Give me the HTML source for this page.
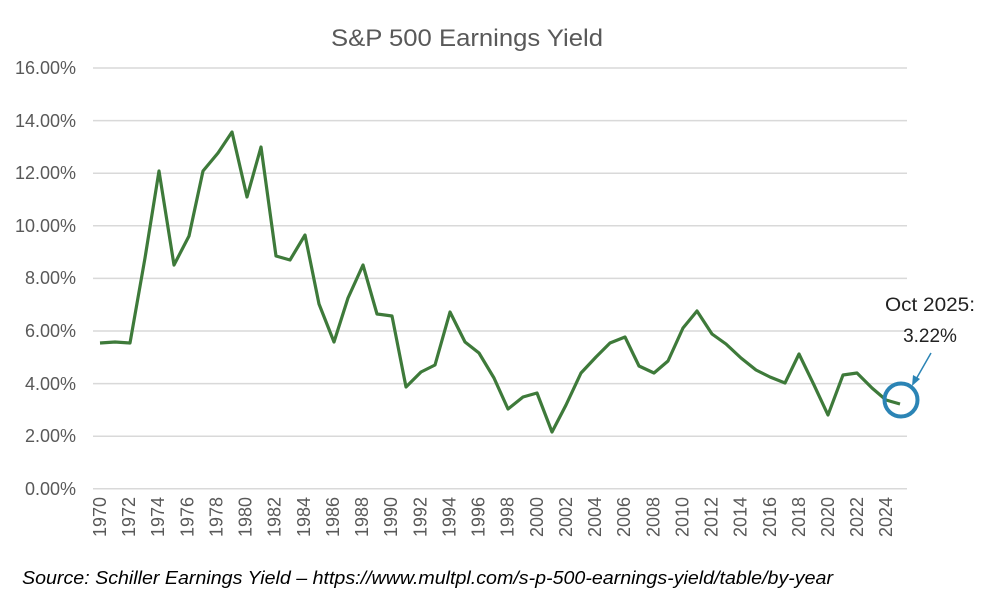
<!DOCTYPE html>
<html><head><meta charset="utf-8"><style>
body{margin:0;background:#fff;}
svg{display:block;font-family:"Liberation Sans",sans-serif;}
</style></head><body>
<svg width="1000" height="599" viewBox="0 0 1000 599">
<rect width="1000" height="599" fill="#fff"/>
<text x="331" y="46" font-size="24" fill="#595959" textLength="272" lengthAdjust="spacingAndGlyphs">S&amp;P 500 Earnings Yield</text>
<g stroke="#d9d9d9" stroke-width="1.5">
<line x1="93" x2="907" y1="68" y2="68"/><line x1="93" x2="907" y1="120.6" y2="120.6"/>
<line x1="93" x2="907" y1="173.2" y2="173.2"/><line x1="93" x2="907" y1="225.8" y2="225.8"/>
<line x1="93" x2="907" y1="278.4" y2="278.4"/><line x1="93" x2="907" y1="331" y2="331"/>
<line x1="93" x2="907" y1="383.6" y2="383.6"/><line x1="93" x2="907" y1="436.2" y2="436.2"/>
<line x1="93" x2="907" y1="488.8" y2="488.8"/>
</g>
<g font-size="18" fill="#595959" text-anchor="end">
<text x="76" y="74">16.00%</text><text x="76" y="127">14.00%</text><text x="76" y="179">12.00%</text>
<text x="76" y="232">10.00%</text><text x="76" y="284">8.00%</text><text x="76" y="337">6.00%</text>
<text x="76" y="390">4.00%</text><text x="76" y="442">2.00%</text><text x="76" y="495">0.00%</text>
</g>
<g font-size="18" fill="#595959" text-anchor="end">
<text transform="translate(106,497) rotate(-90)">1970</text>
<text transform="translate(135.1,497) rotate(-90)">1972</text>
<text transform="translate(164.2,497) rotate(-90)">1974</text>
<text transform="translate(193.4,497) rotate(-90)">1976</text>
<text transform="translate(222.5,497) rotate(-90)">1978</text>
<text transform="translate(251.6,497) rotate(-90)">1980</text>
<text transform="translate(280.7,497) rotate(-90)">1982</text>
<text transform="translate(309.8,497) rotate(-90)">1984</text>
<text transform="translate(339,497) rotate(-90)">1986</text>
<text transform="translate(368.1,497) rotate(-90)">1988</text>
<text transform="translate(397.2,497) rotate(-90)">1990</text>
<text transform="translate(426.3,497) rotate(-90)">1992</text>
<text transform="translate(455.4,497) rotate(-90)">1994</text>
<text transform="translate(484.6,497) rotate(-90)">1996</text>
<text transform="translate(513.7,497) rotate(-90)">1998</text>
<text transform="translate(542.8,497) rotate(-90)">2000</text>
<text transform="translate(571.9,497) rotate(-90)">2002</text>
<text transform="translate(601,497) rotate(-90)">2004</text>
<text transform="translate(630.2,497) rotate(-90)">2006</text>
<text transform="translate(659.3,497) rotate(-90)">2008</text>
<text transform="translate(688.4,497) rotate(-90)">2010</text>
<text transform="translate(717.5,497) rotate(-90)">2012</text>
<text transform="translate(746.6,497) rotate(-90)">2014</text>
<text transform="translate(775.8,497) rotate(-90)">2016</text>
<text transform="translate(804.9,497) rotate(-90)">2018</text>
<text transform="translate(834,497) rotate(-90)">2020</text>
<text transform="translate(863.1,497) rotate(-90)">2022</text>
<text transform="translate(892.2,497) rotate(-90)">2024</text>
</g>
<polyline fill="none" stroke="#3e7a3a" stroke-width="3.2" stroke-linejoin="round" points="100,343 115,342 130,343 145,258 159,171 174,265 189,236 203,171 218,153 232,132 247,197 261,147 276,256 290,260 305,235 319,304 334,342 348,298 363,265 377,314 392,316 406,387 421,372 435,365 450,312 465,342 479,353 494,378 508,409 523,397 537,393 552,432 566,405 581,373 596,357 610,343 625,337 639,366 654,373 668,361 683,328 697,311 712,334 726,344 741,358 756,370 770,377 785,383 799,354 814,385 828,415 843,375 857,373 872,388 886,400 900,404"/>
<circle cx="901" cy="400" r="16.5" fill="none" stroke="#2b84b5" stroke-width="4"/>
<line x1="931" y1="353" x2="915" y2="381" stroke="#2b84b5" stroke-width="1.5"/>
<polygon points="912,386 913,375 920,379" fill="#2b84b5"/>
<text x="930" y="311" text-anchor="middle" font-size="19" fill="#222" textLength="90" lengthAdjust="spacingAndGlyphs">Oct 2025:</text>
<text x="930" y="342" text-anchor="middle" font-size="19" fill="#222">3.22%</text>
<text x="22" y="584" font-size="18" font-style="italic" fill="#000" textLength="811" lengthAdjust="spacingAndGlyphs">Source: Schiller Earnings Yield – https://www.multpl.com/s-p-500-earnings-yield/table/by-year</text>
</svg>
</body></html>
